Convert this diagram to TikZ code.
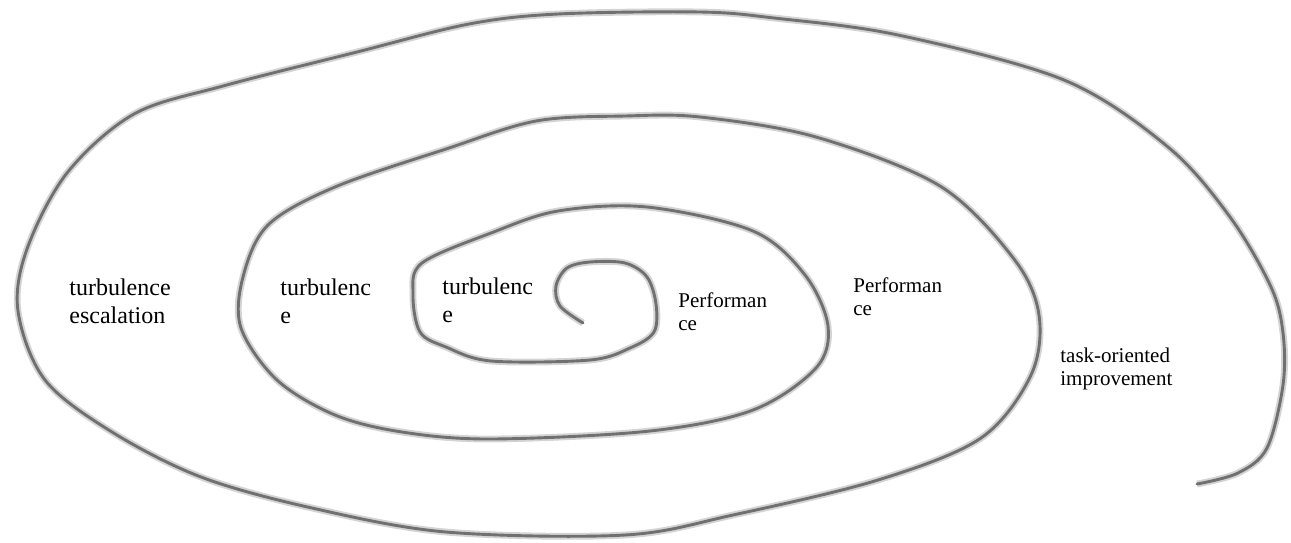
\documentclass[tikz,border=0pt]{standalone}
\usepackage{fontspec}
\setmainfont{Liberation Serif}
\usetikzlibrary{positioning}
\definecolor{coilgray}{RGB}{112,112,112}
\definecolor{haze}{RGB}{212,212,212}

\begin{document}
\begin{tikzpicture}[x=0.5pt,y=-0.5pt,
lbl/.style={anchor=base west,align=left,inner sep=0pt,font=\fontsize{12}{14}\selectfont},
slbl/.style={lbl,font=\fontsize{10.5}{11.2}\selectfont},
coil/.style={draw=coilgray,line width=1.45pt,line cap=round,line join=round,
  preaction={draw=haze,line width=3.4pt}}]
\useasboundingbox (0,0) rectangle (1291,542);
% the spiral, from the inner hook outwards
\draw[coil] plot[smooth,tension=0.55] coordinates{
 (583,323) (560,306) (556,286) (567,268) (590,262) (625,263) (647,277) (656,304)
 (654,332) (630,348) (590,360) (491,361) (446,347) (420,332) (413,294) (422,263)
 (491,233) (558,211) (647,207) (753,231) (805,275) (828,326) (816,368) (753,410)
 (650,431) (491,439) (402,432) (335,415) (277,380) (241,328) (243,277) (268,225)
 (335,187) (446,149) (536,121) (625,116) (700,117) (816,137) (940,186) (1014,259)
 (1039,315) (1031,375) (981,438) (878,480) (733,515) (625,535) (446,532) (312,508)
 (201,477) (112,432) (45,380) (18,311) (27,249) (67,173) (134,114) (223,86)
 (357,52) (469,24) (558,14) (700,12) (774,18) (898,35) (1064,80) (1168,147)
 (1230,217) (1271,287) (1283,333) (1283,385) (1267,448) (1238,473) (1197,484)};
% labels (anchored on the baseline of their last line)
\node[lbl] (escal) at (69,323) {turbulence\\escalation};
\node[lbl] (turbmid) at (280,323) {turbulenc\\e};
\node[lbl] (turbin) at (442,322) {turbulenc\\e};
\node[slbl] (perfin) at (678,330) {Performan\\ce};
\node[slbl] (perfmid) at (853,315) {Performan\\ce};
\node[slbl] (taskimp) at (1060,385) {task-oriented\\improvement};
\end{tikzpicture}
\end{document}
